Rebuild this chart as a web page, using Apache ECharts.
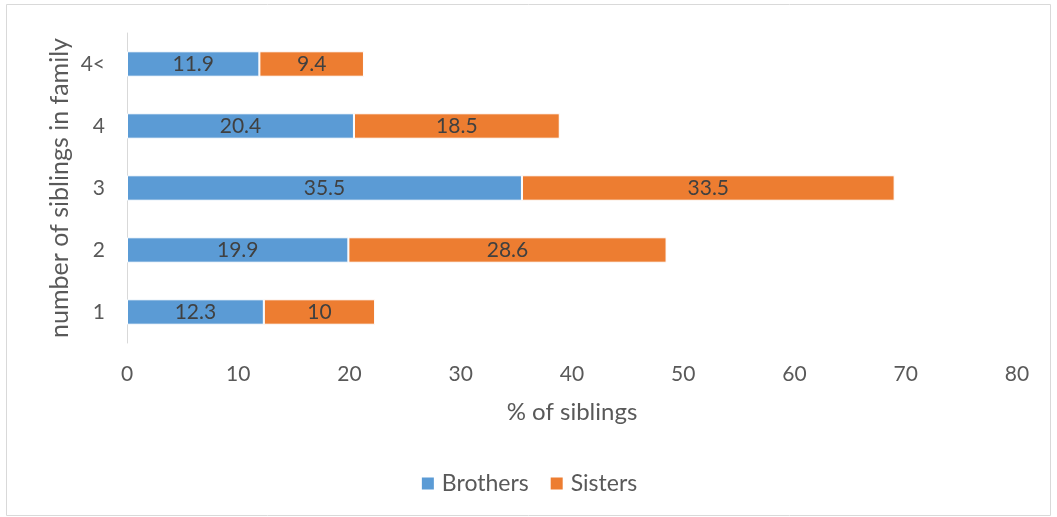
<!DOCTYPE html>
<html><head><meta charset="utf-8">
<script src="https://cdn.jsdelivr.net/npm/echarts@6/dist/echarts.min.js"></script>
<style>html,body{margin:0;padding:0;background:#fff}#c{width:1057px;height:517px}</style>
</head><body><div id="c"></div>
<script>
const categories = ['1', '2', '3', '4', '4<'];
const brothers = [12.3, 19.9, 35.5, 20.4, 11.9];
const sisters = [10, 28.6, 33.5, 18.5, 9.4];
const xTicks = {min: 0, max: 80, interval: 10};

const chart = echarts.init(document.getElementById('c'), null, {renderer: 'canvas'});
const font = 'Lato, "Open Sans", sans-serif';
const lbl = {show: true, position: 'inside', color: '#404040', fontSize: 21, fontFamily: font};
chart.setOption({
  animation: false,
  graphic: [{type: 'rect', shape: {x: 6.5, y: 4.5, width: 1044, height: 511}, style: {fill: 'none', stroke: '#d9d9d9', lineWidth: 1}}],
  grid: {left: 127, right: 40, top: 33, bottom: 174},
  legend: {
    bottom: 17, left: 'center', itemWidth: 14, itemHeight: 14, itemGap: 20, icon: 'rect',
    textStyle: {color: '#595959', fontSize: 23, fontFamily: font, padding: [0, 0, 0, 2]},
    data: ['Brothers', 'Sisters']
  },
  xAxis: {
    type: 'value', min: xTicks.min, max: xTicks.max, interval: xTicks.interval,
    name: '% of siblings', nameLocation: 'middle', nameGap: 57, nameMoveOverlap: false,
    nameTextStyle: {color: '#595959', fontSize: 24, fontFamily: font},
    axisLine: {show: false}, axisTick: {show: false}, splitLine: {show: false},
    axisLabel: {color: '#595959', fontSize: 21, fontFamily: font, margin: 21}
  },
  yAxis: {
    type: 'category', data: categories,
    name: 'number of siblings in family', nameLocation: 'middle', nameGap: 55, nameMoveOverlap: false,
    nameTextStyle: {color: '#595959', fontSize: 25, fontFamily: font},
    axisLine: {show: true, lineStyle: {color: '#d9d9d9', width: 1}}, axisTick: {show: false},
    axisLabel: {color: '#595959', fontSize: 21, fontFamily: font, margin: 22}
  },
  series: [
    {name: 'Brothers', type: 'bar', stack: 's', data: brothers, barWidth: '41%',
     itemStyle: {color: '#5b9bd5', borderColor: '#fff', borderWidth: 1}, label: lbl},
    {name: 'Sisters', type: 'bar', stack: 's', data: sisters, barWidth: '41%',
     itemStyle: {color: '#ed7d31', borderColor: '#fff', borderWidth: 1}, label: lbl}
  ]
});
</script></body></html>
